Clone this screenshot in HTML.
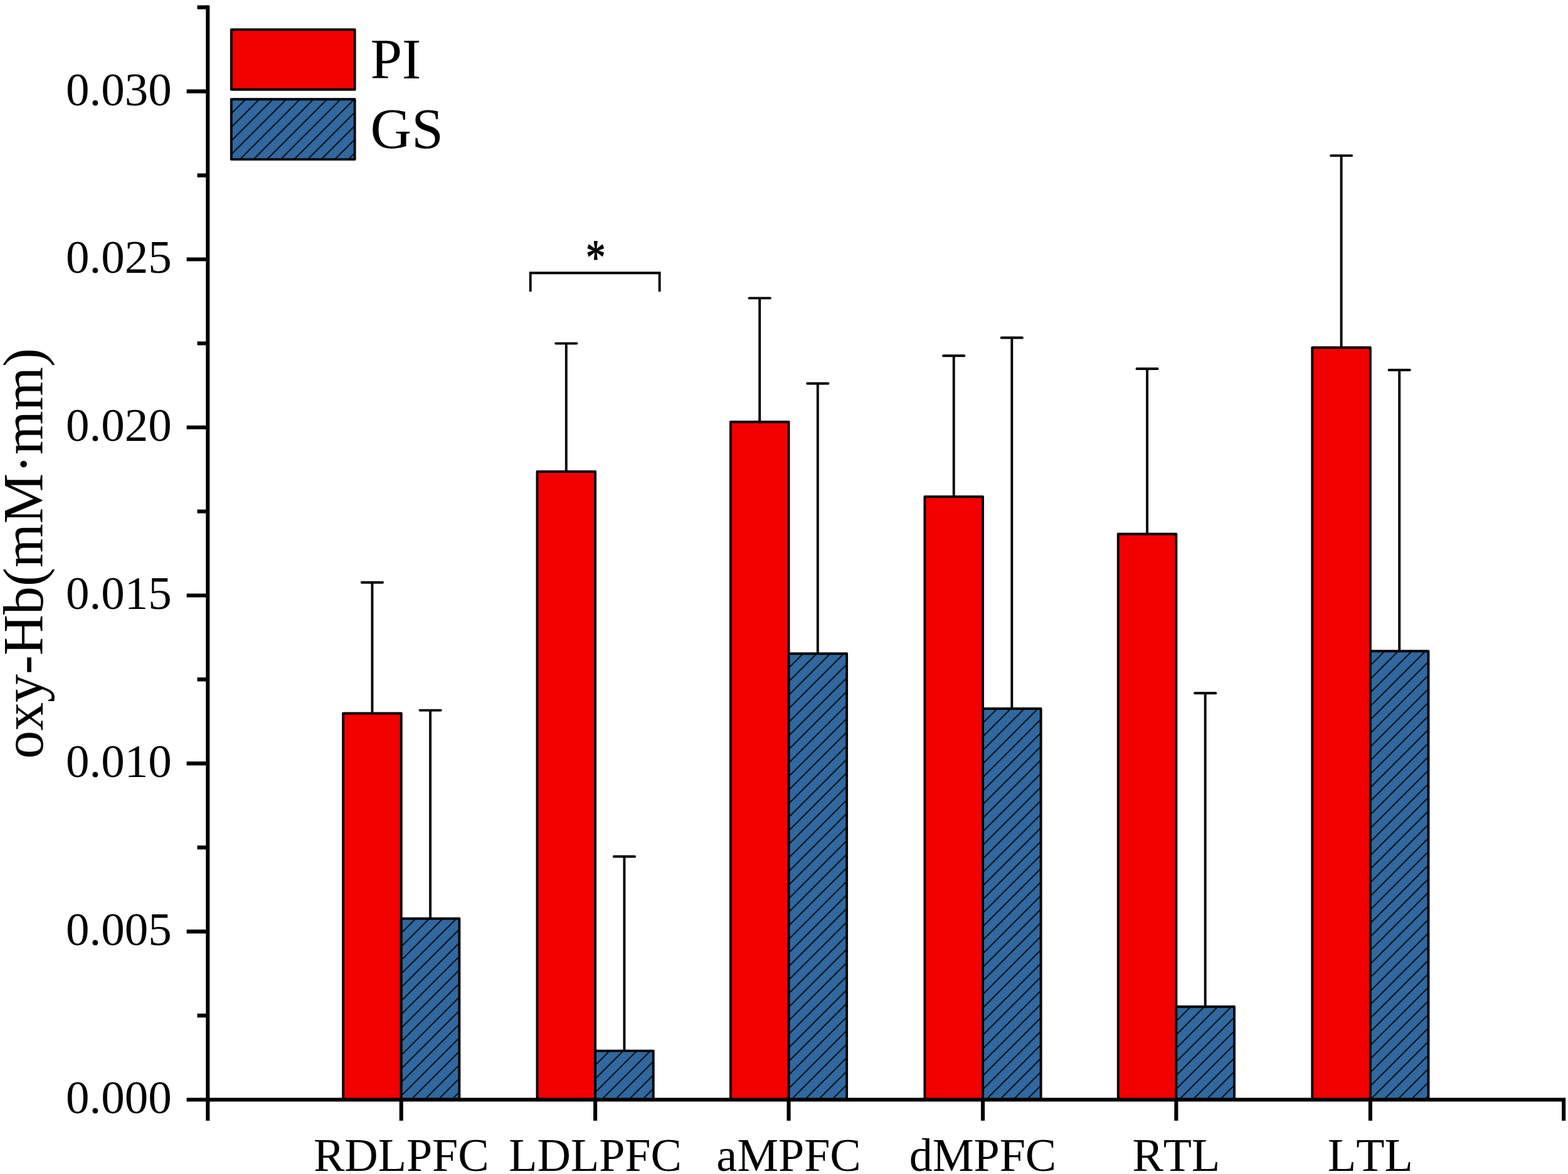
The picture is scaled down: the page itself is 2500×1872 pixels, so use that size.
<!DOCTYPE html>
<html lang="en">
<head>
<meta charset="utf-8">
<title>oxy-Hb bar chart</title>
<style>
html,body{margin:0;padding:0;background:#fff;}
body{width:2500px;height:1872px;overflow:hidden;}
svg{display:block;}
text{font-family:"Liberation Serif","Times New Roman",Times,serif;fill:#000;font-kerning:none;font-variant-ligatures:none;}
.t{font-size:75px;}
.x{font-size:74px;}
.l{font-size:91px;}
.y{font-size:90px;}
.ax{stroke:#000;stroke-width:6.1;fill:none;stroke-linecap:butt;}
.b{stroke:#000;stroke-width:3.9;stroke-linejoin:round;}
.e{stroke:#000;stroke-width:3.9;fill:none;}
.c{stroke:#000;stroke-width:3.9;fill:none;stroke-linecap:round;}
</style>
</head>
<body>
<svg width="2500" height="1872" viewBox="0 0 2500 1872">
<defs>
<pattern id="h0" patternUnits="userSpaceOnUse" width="21.63" height="21.63" x="7.84" y="0"><rect width="21.63" height="21.63" fill="#30689f"/><path d="M-2,2 L2,-2 M-2,23.63 L23.63,-2 M19.63,23.63 L23.63,19.63" stroke="#000" stroke-width="1.8" fill="none"/></pattern>
<pattern id="h1" patternUnits="userSpaceOnUse" width="21.63" height="21.63" x="8.87" y="0"><rect width="21.63" height="21.63" fill="#30689f"/><path d="M-2,2 L2,-2 M-2,23.63 L23.63,-2 M19.63,23.63 L23.63,19.63" stroke="#000" stroke-width="1.8" fill="none"/></pattern>
<pattern id="h2" patternUnits="userSpaceOnUse" width="21.63" height="21.63" x="8.32" y="0"><rect width="21.63" height="21.63" fill="#30689f"/><path d="M-2,2 L2,-2 M-2,23.63 L23.63,-2 M19.63,23.63 L23.63,19.63" stroke="#000" stroke-width="1.8" fill="none"/></pattern>
<pattern id="h3" patternUnits="userSpaceOnUse" width="21.63" height="21.63" x="16.28" y="0"><rect width="21.63" height="21.63" fill="#30689f"/><path d="M-2,2 L2,-2 M-2,23.63 L23.63,-2 M19.63,23.63 L23.63,19.63" stroke="#000" stroke-width="1.8" fill="none"/></pattern>
<pattern id="h4" patternUnits="userSpaceOnUse" width="21.63" height="21.63" x="21.25" y="0"><rect width="21.63" height="21.63" fill="#30689f"/><path d="M-2,2 L2,-2 M-2,23.63 L23.63,-2 M19.63,23.63 L23.63,19.63" stroke="#000" stroke-width="1.8" fill="none"/></pattern>
<pattern id="h5" patternUnits="userSpaceOnUse" width="21.63" height="21.63" x="1.58" y="0"><rect width="21.63" height="21.63" fill="#30689f"/><path d="M-2,2 L2,-2 M-2,23.63 L23.63,-2 M19.63,23.63 L23.63,19.63" stroke="#000" stroke-width="1.8" fill="none"/></pattern>
<pattern id="h6" patternUnits="userSpaceOnUse" width="21.63" height="21.63" x="9.28" y="0"><rect width="21.63" height="21.63" fill="#30689f"/><path d="M-2,2 L2,-2 M-2,23.63 L23.63,-2 M19.63,23.63 L23.63,19.63" stroke="#000" stroke-width="1.8" fill="none"/></pattern>
</defs>
<rect width="2500" height="1872" fill="#fff"/>
<g>
<path class="e" d="M593.45,928.8 V1137.5"/><path class="c" d="M576.85,928.8 H610.05"/>
<path class="e" d="M686.05,1132.6 V1464.8"/><path class="c" d="M669.45,1132.6 H702.65"/>
<rect class="b" x="547.15" y="1137.5" width="92.6" height="616.05" fill="#f20000"/>
<rect class="b" x="639.75" y="1464.8" width="92.6" height="288.75" fill="url(#h0)"/>
</g>
<g>
<path class="e" d="M902.8,547.6 V752"/><path class="c" d="M886.2,547.6 H919.4"/>
<path class="e" d="M995.4,1365.8 V1675.6"/><path class="c" d="M978.8,1365.8 H1012"/>
<rect class="b" x="856.5" y="752" width="92.6" height="1001.55" fill="#f20000"/>
<rect class="b" x="949.1" y="1675.6" width="92.6" height="77.95" fill="url(#h1)"/>
</g>
<g>
<path class="e" d="M1211.2,475.4 V672.8"/><path class="c" d="M1194.6,475.4 H1227.8"/>
<path class="e" d="M1303.8,611.5 V1042.2"/><path class="c" d="M1287.2,611.5 H1320.4"/>
<rect class="b" x="1164.9" y="672.8" width="92.6" height="1080.75" fill="#f20000"/>
<rect class="b" x="1257.5" y="1042.2" width="92.6" height="711.35" fill="url(#h2)"/>
</g>
<g>
<path class="e" d="M1520.7,567.2 V792"/><path class="c" d="M1504.1,567.2 H1537.3"/>
<path class="e" d="M1613.3,538.5 V1130"/><path class="c" d="M1596.7,538.5 H1629.9"/>
<rect class="b" x="1474.4" y="792" width="92.6" height="961.55" fill="#f20000"/>
<rect class="b" x="1567" y="1130" width="92.6" height="623.55" fill="url(#h3)"/>
</g>
<g>
<path class="e" d="M1829.05,588 V851.5"/><path class="c" d="M1812.45,588 H1845.65"/>
<path class="e" d="M1921.65,1105.2 V1605.3"/><path class="c" d="M1905.05,1105.2 H1938.25"/>
<rect class="b" x="1782.75" y="851.5" width="92.6" height="902.05" fill="#f20000"/>
<rect class="b" x="1875.35" y="1605.3" width="92.6" height="148.25" fill="url(#h4)"/>
</g>
<g>
<path class="e" d="M2138.55,248.1 V554.2"/><path class="c" d="M2121.95,248.1 H2155.15"/>
<path class="e" d="M2231.15,590 V1038.2"/><path class="c" d="M2214.55,590 H2247.75"/>
<rect class="b" x="2092.25" y="554.2" width="92.6" height="1199.35" fill="#f20000"/>
<rect class="b" x="2184.85" y="1038.2" width="92.6" height="715.35" fill="url(#h5)"/>
</g>
<path class="ax" d="M331.3,8.57 V1786.9"/>
<path class="ax" d="M297.6,1753.55 H2496.15"/>
<path class="ax" d="M314.5,1619.33 H331.3 M297.6,1485.35 H331.3 M314.5,1351.38 H331.3 M297.6,1217.4 H331.3 M314.5,1083.42 H331.3 M297.6,949.45 H331.3 M314.5,815.48 H331.3 M297.6,681.5 H331.3 M314.5,547.53 H331.3 M297.6,413.55 H331.3 M314.5,279.58 H331.3 M297.6,145.6 H331.3 M314.5,11.62 H331.3"/>
<path class="ax" d="M639.75,1753.55 V1786.9 M949.1,1753.55 V1786.9 M1257.5,1753.55 V1786.9 M1567,1753.55 V1786.9 M1875.35,1753.55 V1786.9 M2184.85,1753.55 V1786.9 M2493.1,1753.55 V1786.9"/>
<text class="t" x="273.7" y="1775.2" text-anchor="end">0.000</text>
<text class="t" x="273.7" y="1507.25" text-anchor="end">0.005</text>
<text class="t" x="273.7" y="1239.3" text-anchor="end">0.010</text>
<text class="t" x="273.7" y="971.35" text-anchor="end">0.015</text>
<text class="t" x="273.7" y="703.4" text-anchor="end">0.020</text>
<text class="t" x="273.7" y="435.45" text-anchor="end">0.025</text>
<text class="t" x="273.7" y="167.5" text-anchor="end">0.030</text>
<text class="x" x="639.75" y="1866.6" text-anchor="middle">RDLPFC</text>
<text class="x" x="949.1" y="1866.6" text-anchor="middle">LDLPFC</text>
<text class="x" x="1257.5" y="1866.6" text-anchor="middle">aMPFC</text>
<text class="x" x="1567" y="1866.6" text-anchor="middle">dMPFC</text>
<text class="x" x="1875.35" y="1866.6" text-anchor="middle">RTL</text>
<text class="x" x="2184.85" y="1866.6" text-anchor="middle">LTL</text>
<text class="y" transform="translate(67.8,882.55) rotate(-90)" text-anchor="middle">oxy-Hb(mM·mm)</text>
<path class="e" d="M845.7,465 V435.3 H1051.6 V465" stroke-width="3.8"/>
<text transform="translate(949.77,435.8) scale(1.05,1.31)" text-anchor="middle" style="font-size:60px;stroke:#000;stroke-width:1;stroke-linejoin:round">*</text>
<rect class="b" x="368.8" y="47.25" width="196.85" height="95.5" fill="#f20000"/>
<rect class="b" x="368.8" y="158.2" width="196.85" height="95.9" fill="url(#h6)"/>
<text class="l" x="590.5" y="124.5">PI</text>
<text class="l" x="590.6" y="235.9">GS</text>
</svg>
</body>
</html>
